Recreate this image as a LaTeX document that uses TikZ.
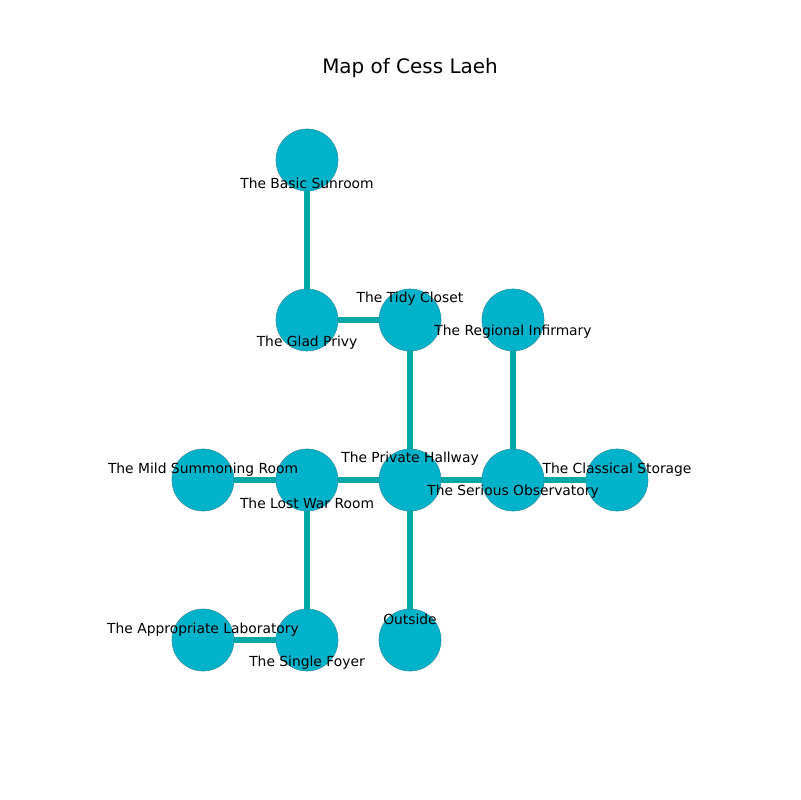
\documentclass[tikz,border=0pt]{standalone}
\usepackage{fontspec}
\setmainfont{DejaVu Sans}
\definecolor{nodefill}{HTML}{00B2CA}
\definecolor{nodeedge}{HTML}{2A8FA0}
\definecolor{edgecol}{HTML}{00A8A8}
\begin{document}
\begin{tikzpicture}[x=0.01in,y=-0.01in,
  room/.style={circle,fill=nodefill,draw=nodeedge,line width=0.4pt,minimum size=0.62in,inner sep=0pt},
  link/.style={draw=edgecol,line width=4.2pt},
  lbl/.style={font=\fontsize{10}{12}\selectfont,inner sep=0pt,anchor=center}]
\useasboundingbox (0,0) rectangle (800,800);
\node[font=\fontsize{14.4}{17}\selectfont] (title) at (410,68) {Map of Cess Laeh};
\coordinate (cSun) at (307,160);
\coordinate (cGlad) at (307,320);
\coordinate (cTidy) at (410,320);
\coordinate (cInf) at (513,320);
\coordinate (cMild) at (203,480);
\coordinate (cLost) at (307,480);
\coordinate (cHall) at (410,480);
\coordinate (cObs) at (513,480);
\coordinate (cStor) at (617,480);
\coordinate (cLab) at (203,640);
\coordinate (cFoy) at (307,640);
\coordinate (cOut) at (410,640);
\draw[link] (cSun) -- (cGlad);
\draw[link] (cGlad) -- (cTidy);
\draw[link] (cTidy) -- (cHall);
\draw[link] (cInf) -- (cObs);
\draw[link] (cMild) -- (cLost);
\draw[link] (cLost) -- (cHall);
\draw[link] (cHall) -- (cObs);
\draw[link] (cObs) -- (cStor);
\draw[link] (cLost) -- (cFoy);
\draw[link] (cLab) -- (cFoy);
\draw[link] (cHall) -- (cOut);
\node[room] (sun) at (cSun) {};
\node[room] (glad) at (cGlad) {};
\node[room] (tidy) at (cTidy) {};
\node[room] (inf) at (cInf) {};
\node[room] (mild) at (cMild) {};
\node[room] (lost) at (cLost) {};
\node[room] (hall) at (cHall) {};
\node[room] (obs) at (cObs) {};
\node[room] (stor) at (cStor) {};
\node[room] (lab) at (cLab) {};
\node[room] (foy) at (cFoy) {};
\node[room] (out) at (cOut) {};
\node[lbl] (lsun) at (307,183) {The Basic Sunroom};
\node[lbl] (lglad) at (307,343) {The Glad Privy};
\node[lbl] (ltidy) at (410,299) {The Tidy Closet};
\node[lbl] (linf) at (513,332) {The Regional Infirmary};
\node[lbl] (lmild) at (203,470) {The Mild Summoning Room};
\node[lbl] (llost) at (307,503) {The Lost War Room};
\node[lbl] (lhall) at (410,459) {The Private Hallway};
\node[lbl] (lobs) at (513,492) {The Serious Observatory};
\node[lbl] (lstor) at (617,470) {The Classical Storage};
\node[lbl] (llab) at (203,630) {The Appropriate Laboratory};
\node[lbl] (lfoy) at (307,663) {The Single Foyer};
\node[lbl] (lout) at (410,619) {Outside};
\end{tikzpicture}
\end{document}
